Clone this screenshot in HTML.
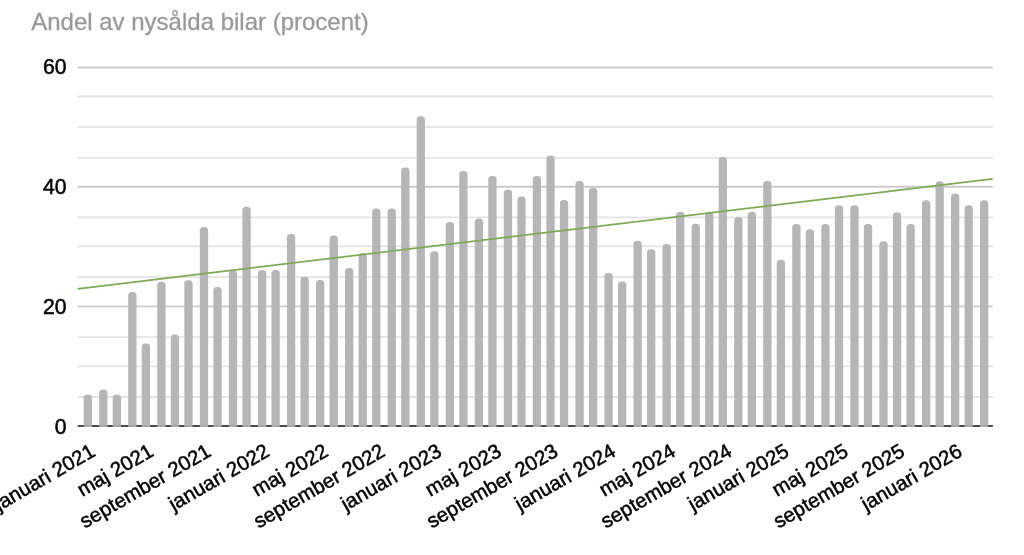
<!DOCTYPE html>
<html lang="sv">
<head>
<meta charset="utf-8">
<title>Andel av nysålda bilar (procent)</title>
<style>
html,body{margin:0;padding:0;background:#fff;}
body{width:1024px;height:555px;overflow:hidden;}
svg{display:block;}
text{font-family:"Liberation Sans",Arial,Helvetica,sans-serif;}
.title{font-size:24px;fill:#999;stroke:#999;stroke-width:0.3px;}
.yl{font-size:21.2px;fill:#000;stroke:#000;stroke-width:0.5px;text-anchor:end;}
.xl{font-size:20.4px;fill:#000;stroke:#000;stroke-width:0.48px;text-anchor:end;}
</style>
</head>
<body>
<svg width="1024" height="555" viewBox="0 0 1024 555">
<rect width="1024" height="555" fill="#fff"/>
<text class="title" x="31.2" y="29.7">Andel av nysålda bilar (procent)</text>

<g fill="none">
<line x1="77.7" x2="992.8" y1="397.00" y2="397.00" stroke="#e4e4e4" stroke-width="1.8"/>
<line x1="77.7" x2="992.8" y1="366.30" y2="366.30" stroke="#e4e4e4" stroke-width="1.8"/>
<line x1="77.7" x2="992.8" y1="337.10" y2="337.10" stroke="#e4e4e4" stroke-width="1.8"/>
<line x1="77.7" x2="992.8" y1="306.40" y2="306.40" stroke="#cbcbcb" stroke-width="1.9"/>
<line x1="77.7" x2="992.8" y1="277.20" y2="277.20" stroke="#e4e4e4" stroke-width="1.8"/>
<line x1="77.7" x2="992.8" y1="246.35" y2="246.35" stroke="#e4e4e4" stroke-width="1.8"/>
<line x1="77.7" x2="992.8" y1="217.35" y2="217.35" stroke="#e4e4e4" stroke-width="1.8"/>
<line x1="77.7" x2="992.8" y1="186.70" y2="186.70" stroke="#cbcbcb" stroke-width="1.9"/>
<line x1="77.7" x2="992.8" y1="157.90" y2="157.90" stroke="#e4e4e4" stroke-width="1.8"/>
<line x1="77.7" x2="992.8" y1="127.00" y2="127.00" stroke="#e4e4e4" stroke-width="1.8"/>
<line x1="77.7" x2="992.8" y1="96.50" y2="96.50" stroke="#e4e4e4" stroke-width="1.8"/>
<line x1="77.7" x2="992.8" y1="67.50" y2="67.50" stroke="#cbcbcb" stroke-width="1.9"/>
</g>
<line x1="77.7" x2="992.8" y1="426.0" y2="426.0" stroke="#525252" stroke-width="1.9"/>
<g fill="#b6b6b6">
<path d="M83.67 427.0V398.20Q83.67 394.60 87.27 394.60H88.37Q91.97 394.60 91.97 398.20V427.0Z"/>
<path d="M99.16 427.0V393.20Q99.16 389.60 102.76 389.60H103.86Q107.46 389.60 107.46 393.20V427.0Z"/>
<path d="M112.71 427.0V398.20Q112.71 394.60 116.31 394.60H117.41Q121.01 394.60 121.01 398.20V427.0Z"/>
<path d="M128.20 427.0V295.70Q128.20 292.10 131.80 292.10H132.90Q136.50 292.10 136.50 295.70V427.0Z"/>
<path d="M141.75 427.0V347.00Q141.75 343.40 145.35 343.40H146.45Q150.05 343.40 150.05 347.00V427.0Z"/>
<path d="M157.24 427.0V285.30Q157.24 281.70 160.84 281.70H161.94Q165.54 281.70 165.54 285.30V427.0Z"/>
<path d="M170.79 427.0V338.20Q170.79 334.60 174.39 334.60H175.49Q179.09 334.60 179.09 338.20V427.0Z"/>
<path d="M184.34 427.0V283.80Q184.34 280.20 187.94 280.20H189.04Q192.64 280.20 192.64 283.80V427.0Z"/>
<path d="M199.83 427.0V230.60Q199.83 227.00 203.43 227.00H204.53Q208.13 227.00 208.13 230.60V427.0Z"/>
<path d="M213.38 427.0V290.60Q213.38 287.00 216.98 287.00H218.08Q221.68 287.00 221.68 290.60V427.0Z"/>
<path d="M228.87 427.0V274.10Q228.87 270.50 232.47 270.50H233.57Q237.17 270.50 237.17 274.10V427.0Z"/>
<path d="M242.42 427.0V210.35Q242.42 206.75 246.02 206.75H247.12Q250.72 206.75 250.72 210.35V427.0Z"/>
<path d="M257.91 427.0V273.60Q257.91 270.00 261.51 270.00H262.61Q266.21 270.00 266.21 273.60V427.0Z"/>
<path d="M271.46 427.0V273.60Q271.46 270.00 275.06 270.00H276.16Q279.76 270.00 279.76 273.60V427.0Z"/>
<path d="M286.95 427.0V237.60Q286.95 234.00 290.55 234.00H291.65Q295.25 234.00 295.25 237.60V427.0Z"/>
<path d="M300.50 427.0V280.35Q300.50 276.75 304.10 276.75H305.20Q308.80 276.75 308.80 280.35V427.0Z"/>
<path d="M315.99 427.0V283.60Q315.99 280.00 319.59 280.00H320.69Q324.29 280.00 324.29 283.60V427.0Z"/>
<path d="M329.54 427.0V239.20Q329.54 235.60 333.14 235.60H334.24Q337.84 235.60 337.84 239.20V427.0Z"/>
<path d="M345.03 427.0V271.60Q345.03 268.00 348.63 268.00H349.73Q353.33 268.00 353.33 271.60V427.0Z"/>
<path d="M358.58 427.0V256.60Q358.58 253.00 362.18 253.00H363.28Q366.88 253.00 366.88 256.60V427.0Z"/>
<path d="M372.13 427.0V212.00Q372.13 208.40 375.73 208.40H376.83Q380.43 208.40 380.43 212.00V427.0Z"/>
<path d="M387.62 427.0V212.00Q387.62 208.40 391.22 208.40H392.32Q395.92 208.40 395.92 212.00V427.0Z"/>
<path d="M401.17 427.0V171.10Q401.17 167.50 404.77 167.50H405.87Q409.47 167.50 409.47 171.10V427.0Z"/>
<path d="M416.66 427.0V119.85Q416.66 116.25 420.26 116.25H421.36Q424.96 116.25 424.96 119.85V427.0Z"/>
<path d="M430.21 427.0V254.85Q430.21 251.25 433.81 251.25H434.91Q438.51 251.25 438.51 254.85V427.0Z"/>
<path d="M445.70 427.0V225.60Q445.70 222.00 449.30 222.00H450.40Q454.00 222.00 454.00 225.60V427.0Z"/>
<path d="M459.25 427.0V174.60Q459.25 171.00 462.85 171.00H463.95Q467.55 171.00 467.55 174.60V427.0Z"/>
<path d="M474.74 427.0V222.20Q474.74 218.60 478.34 218.60H479.44Q483.04 218.60 483.04 222.20V427.0Z"/>
<path d="M488.29 427.0V179.60Q488.29 176.00 491.89 176.00H492.99Q496.59 176.00 496.59 179.60V427.0Z"/>
<path d="M503.78 427.0V193.35Q503.78 189.75 507.38 189.75H508.48Q512.08 189.75 512.08 193.35V427.0Z"/>
<path d="M517.33 427.0V200.10Q517.33 196.50 520.93 196.50H522.03Q525.63 196.50 525.63 200.10V427.0Z"/>
<path d="M532.82 427.0V179.60Q532.82 176.00 536.42 176.00H537.52Q541.12 176.00 541.12 179.60V427.0Z"/>
<path d="M546.37 427.0V159.10Q546.37 155.50 549.97 155.50H551.07Q554.67 155.50 554.67 159.10V427.0Z"/>
<path d="M559.93 427.0V203.60Q559.93 200.00 563.53 200.00H564.63Q568.23 200.00 568.23 203.60V427.0Z"/>
<path d="M575.41 427.0V184.60Q575.41 181.00 579.01 181.00H580.11Q583.71 181.00 583.71 184.60V427.0Z"/>
<path d="M588.97 427.0V191.35Q588.97 187.75 592.57 187.75H593.67Q597.27 187.75 597.27 191.35V427.0Z"/>
<path d="M604.45 427.0V276.70Q604.45 273.10 608.05 273.10H609.15Q612.75 273.10 612.75 276.70V427.0Z"/>
<path d="M618.01 427.0V285.20Q618.01 281.60 621.61 281.60H622.71Q626.31 281.60 626.31 285.20V427.0Z"/>
<path d="M633.49 427.0V244.30Q633.49 240.70 637.09 240.70H638.19Q641.79 240.70 641.79 244.30V427.0Z"/>
<path d="M647.05 427.0V252.80Q647.05 249.20 650.65 249.20H651.75Q655.35 249.20 655.35 252.80V427.0Z"/>
<path d="M662.53 427.0V247.70Q662.53 244.10 666.13 244.10H667.23Q670.83 244.10 670.83 247.70V427.0Z"/>
<path d="M676.09 427.0V215.35Q676.09 211.75 679.69 211.75H680.79Q684.39 211.75 684.39 215.35V427.0Z"/>
<path d="M691.57 427.0V227.35Q691.57 223.75 695.17 223.75H696.27Q699.87 223.75 699.87 227.35V427.0Z"/>
<path d="M705.13 427.0V215.35Q705.13 211.75 708.73 211.75H709.83Q713.43 211.75 713.43 215.35V427.0Z"/>
<path d="M718.68 427.0V160.60Q718.68 157.00 722.28 157.00H723.38Q726.98 157.00 726.98 160.60V427.0Z"/>
<path d="M734.17 427.0V220.60Q734.17 217.00 737.77 217.00H738.87Q742.47 217.00 742.47 220.60V427.0Z"/>
<path d="M747.72 427.0V215.35Q747.72 211.75 751.32 211.75H752.42Q756.02 211.75 756.02 215.35V427.0Z"/>
<path d="M763.21 427.0V184.60Q763.21 181.00 766.81 181.00H767.91Q771.51 181.00 771.51 184.60V427.0Z"/>
<path d="M776.76 427.0V263.40Q776.76 259.80 780.36 259.80H781.46Q785.06 259.80 785.06 263.40V427.0Z"/>
<path d="M792.25 427.0V227.50Q792.25 223.90 795.85 223.90H796.95Q800.55 223.90 800.55 227.50V427.0Z"/>
<path d="M805.80 427.0V232.90Q805.80 229.30 809.40 229.30H810.50Q814.10 229.30 814.10 232.90V427.0Z"/>
<path d="M821.29 427.0V227.70Q821.29 224.10 824.89 224.10H825.99Q829.59 224.10 829.59 227.70V427.0Z"/>
<path d="M834.84 427.0V208.90Q834.84 205.30 838.44 205.30H839.54Q843.14 205.30 843.14 208.90V427.0Z"/>
<path d="M850.33 427.0V208.90Q850.33 205.30 853.93 205.30H855.03Q858.63 205.30 858.63 208.90V427.0Z"/>
<path d="M863.88 427.0V227.70Q863.88 224.10 867.48 224.10H868.58Q872.18 224.10 872.18 227.70V427.0Z"/>
<path d="M879.37 427.0V244.90Q879.37 241.30 882.97 241.30H884.07Q887.67 241.30 887.67 244.90V427.0Z"/>
<path d="M892.92 427.0V215.80Q892.92 212.20 896.52 212.20H897.62Q901.22 212.20 901.22 215.80V427.0Z"/>
<path d="M906.47 427.0V227.70Q906.47 224.10 910.07 224.10H911.17Q914.77 224.10 914.77 227.70V427.0Z"/>
<path d="M921.96 427.0V203.90Q921.96 200.30 925.56 200.30H926.66Q930.26 200.30 930.26 203.90V427.0Z"/>
<path d="M935.51 427.0V184.80Q935.51 181.20 939.11 181.20H940.21Q943.81 181.20 943.81 184.80V427.0Z"/>
<path d="M951.00 427.0V197.00Q951.00 193.40 954.60 193.40H955.70Q959.30 193.40 959.30 197.00V427.0Z"/>
<path d="M964.55 427.0V208.90Q964.55 205.30 968.15 205.30H969.25Q972.85 205.30 972.85 208.90V427.0Z"/>
<path d="M980.04 427.0V203.90Q980.04 200.30 983.64 200.30H984.74Q988.34 200.30 988.34 203.90V427.0Z"/>
</g>
<line x1="77.7" x2="992.8" y1="426.0" y2="426.0" stroke="#000" stroke-opacity="0.08" stroke-width="1.9"/>
<line x1="77.7" y1="288.8" x2="992.8" y2="178.8" stroke="#7daa55" stroke-width="1.7"/>
<text class="yl" x="66.6" y="433.95">0</text>
<text class="yl" x="66.6" y="314.10">20</text>
<text class="yl" x="66.6" y="194.10">40</text>
<text class="yl" x="66.6" y="74.45">60</text>
<text class="xl" transform="translate(96.50 455.1) rotate(-30)" x="0" y="0">januari 2021</text>
<text class="xl" transform="translate(154.80 455.1) rotate(-30)" x="0" y="0">maj 2021</text>
<text class="xl" transform="translate(212.40 455.1) rotate(-30)" x="0" y="0">september 2021</text>
<text class="xl" transform="translate(270.90 455.1) rotate(-30)" x="0" y="0">januari 2022</text>
<text class="xl" transform="translate(329.70 455.1) rotate(-30)" x="0" y="0">maj 2022</text>
<text class="xl" transform="translate(386.35 455.1) rotate(-30)" x="0" y="0">september 2022</text>
<text class="xl" transform="translate(443.15 455.1) rotate(-30)" x="0" y="0">januari 2023</text>
<text class="xl" transform="translate(502.85 455.1) rotate(-30)" x="0" y="0">maj 2023</text>
<text class="xl" transform="translate(559.30 455.1) rotate(-30)" x="0" y="0">september 2023</text>
<text class="xl" transform="translate(617.20 455.1) rotate(-30)" x="0" y="0">januari 2024</text>
<text class="xl" transform="translate(676.80 455.1) rotate(-30)" x="0" y="0">maj 2024</text>
<text class="xl" transform="translate(733.35 455.1) rotate(-30)" x="0" y="0">september 2024</text>
<text class="xl" transform="translate(790.30 455.1) rotate(-30)" x="0" y="0">januari 2025</text>
<text class="xl" transform="translate(849.70 455.1) rotate(-30)" x="0" y="0">maj 2025</text>
<text class="xl" transform="translate(906.10 455.1) rotate(-30)" x="0" y="0">september 2025</text>
<text class="xl" transform="translate(963.50 455.1) rotate(-30)" x="0" y="0">januari 2026</text>
</svg>
</body>
</html>
